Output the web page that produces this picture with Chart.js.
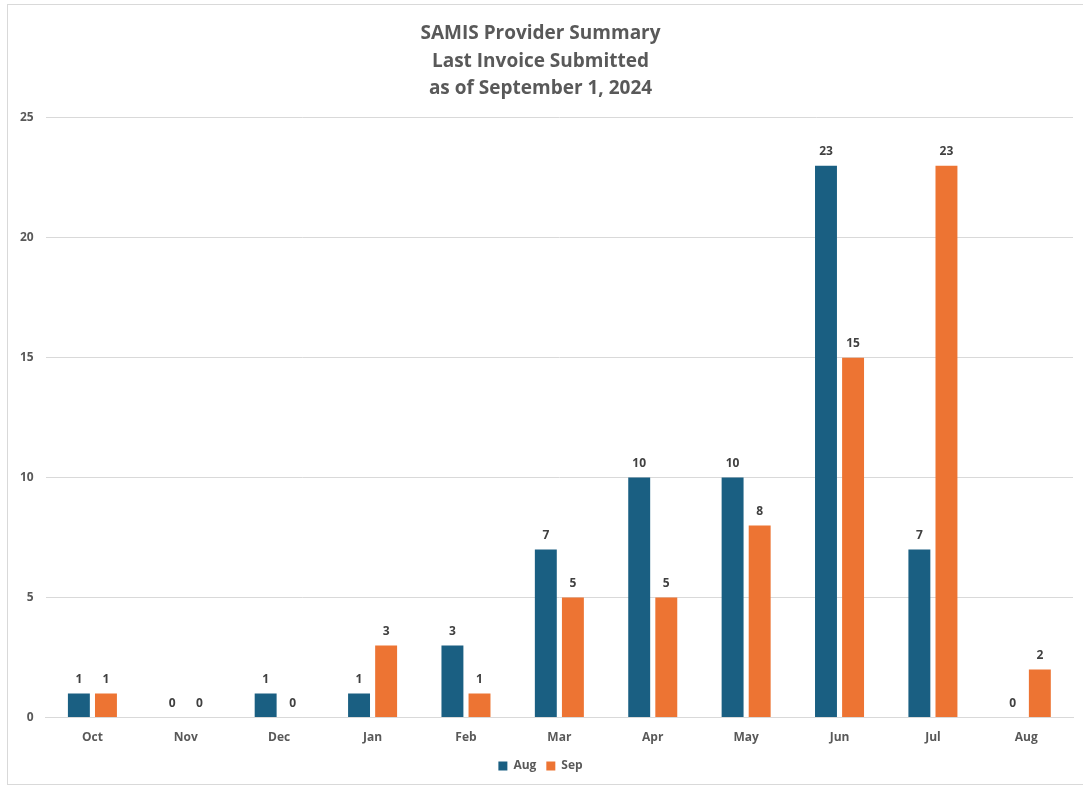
<!DOCTYPE html>
<html>
<head>
<meta charset="utf-8">
<script src="https://cdn.jsdelivr.net/npm/chart.js@4.4.1/dist/chart.umd.min.js"></script>
<style>
  html, body { margin: 0; padding: 0; background: #fff; }
  #wrap { position: absolute; left: 7px; top: 4px; width: 1076px; height: 781px; border: 1px solid #d9d9d9; border-right: none; box-sizing: border-box; }
</style>
</head>
<body>
<div id="wrap"><canvas id="grafica"></canvas></div>
<script>
// Datos
var meses = ['Oct', 'Nov', 'Dec', 'Jan', 'Feb', 'Mar', 'Apr', 'May', 'Jun', 'Jul', 'Aug'];
var valoresAug = [1, 0, 1, 1, 3, 7, 10, 10, 23, 7, 0];
var valoresSep = [1, 0, 0, 3, 1, 5, 5, 8, 15, 23, 2];
var ticksY = [0, 5, 10, 15, 20, 25];

var fuente = "'Open Sans', 'Liberation Sans', sans-serif";
var gris = '#595959';

// etiquetas encima de cada barra
var etiquetas = {
    id: 'etiquetas',
    afterDatasetsDraw: function (chart) {
        var ctx = chart.ctx;
        ctx.save();
        ctx.font = 'bold 12px ' + fuente;
        ctx.fillStyle = '#404040';
        ctx.textAlign = 'center';
        ctx.textBaseline = 'bottom';
        chart.data.datasets.forEach(function (ds, i) {
            chart.getDatasetMeta(i).data.forEach(function (bar, j) {
                ctx.fillText(ds.data[j], bar.x, bar.y - 8);
            });
        });
        ctx.restore();
    }
};

var ctxGrafica = document.getElementById('grafica').getContext('2d');
var grafica = new Chart(ctxGrafica, {
    type: 'bar',
    data: {
        labels: meses,
        datasets: [{
            label: 'Aug',
            data: valoresAug,
            backgroundColor: '#1a5f82'
        }, {
            label: 'Sep',
            data: valoresSep,
            backgroundColor: '#ed7433'
        }]
    },
    options: {
        responsive: true,
        maintainAspectRatio: false,
        animation: false,
        layout: { padding: { left: 0, right: 10, top: 10, bottom: 2 } },
        categoryPercentage: 0.58,
        barPercentage: 0.81,
        plugins: {
            title: {
                display: true,
                text: ['SAMIS Provider Summary', 'Last Invoice Submitted', 'as of September 1, 2024'],
                color: gris,
                font: { family: fuente, size: 19, weight: 'bold', lineHeight: 1.45 },
                padding: { top: 5, bottom: 15 }
            },
            legend: {
                position: 'bottom',
                labels: {
                    color: gris,
                    boxWidth: 9,
                    boxHeight: 9,
                    padding: 10,
                    font: { family: fuente, size: 12, weight: 'bold' }
                }
            },
            tooltip: { enabled: false }
        },
        scales: {
            x: {
                grid: { display: false },
                border: { color: '#d9d9d9' },
                ticks: { color: gris, padding: 5, font: { family: fuente, size: 12, weight: 'bold' } }
            },
            y: {
                min: 0,
                max: 25,
                afterBuildTicks: function (axis) {
                    axis.ticks = ticksY.map(function (v) { return { value: v }; });
                },
                grid: { color: '#d9d9d9', drawTicks: false },
                border: { display: false },
                ticks: { color: gris, padding: 12, font: { family: fuente, size: 12, weight: 'bold' } }
            }
        }
    },
    plugins: [etiquetas]
});
</script>
</body>
</html>
